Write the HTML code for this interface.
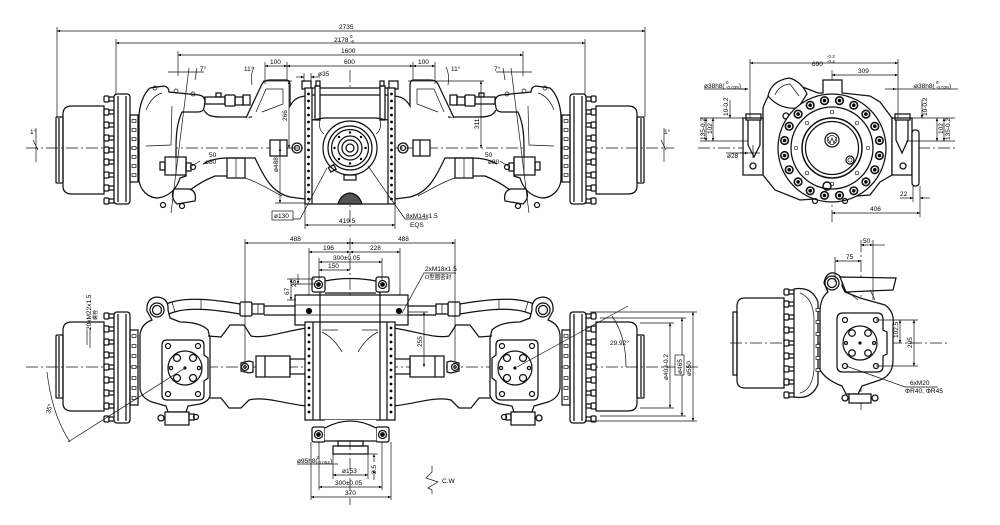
<!DOCTYPE html>
<html><head><meta charset="utf-8"><style>
html,body{margin:0;padding:0;background:#fff}
svg{display:block}
text{font-family:"Liberation Sans","Noto Sans CJK SC",sans-serif;font-size:6.5px;fill:#000;stroke:none}
.th{stroke-width:.7}
.c{stroke-width:.7;stroke-dasharray:12 3 2 3}
.d{stroke-width:.7;marker-start:url(#ar);marker-end:url(#ar)}
.d1{stroke-width:.7;marker-end:url(#ar)}
.f{fill:#fff}
.k{fill:#000}
</style></head><body>
<svg width="1000" height="525" viewBox="0 0 1000 525" xmlns="http://www.w3.org/2000/svg" xmlns:xlink="http://www.w3.org/1999/xlink">
<defs>
<marker id="ar" viewBox="0 0 10 10" refX="10" refY="5" markerWidth="5" markerHeight="3" orient="auto-start-reverse" markerUnits="userSpaceOnUse"><path d="M0,1 L10,5 L0,9 Z" fill="#000" stroke="none"/></marker>
<g id="bt"><rect x="0" y="-3" width="5" height="6" rx="1.2" fill="#fff"/><rect x="5" y="-2" width="5" height="4" fill="#fff"/></g>
<g id="rb"><circle r="3.8" fill="#fff" stroke-width="1.6"/><circle r="1.8" fill="#000" stroke="none"/></g>
<g id="th"><rect x="0" y="-1.5" width="4" height="3" fill="#fff" stroke-width=".7"/></g>
</defs>
<g fill="none" stroke="#111" stroke-width="1.25">

<!-- ================= FRONT VIEW (top) ================= -->
<line class="c" x1="26" y1="148" x2="674" y2="148"/>
<line class="c" x1="350" y1="70" x2="350" y2="230"/>

<g id="FL">
 <rect x="56" y="117" width="7" height="66" rx="1"/>
 <line x1="59" y1="118" x2="59" y2="182"/>
 <path d="M63,114 Q63,106 72,106 L104,106 L104,194 L72,194 Q63,194 63,186 Z"/>
 <use xlink:href="#bt" x="104" y="99"/><use xlink:href="#bt" x="104" y="112"/><use xlink:href="#bt" x="104" y="125"/>
 <use xlink:href="#bt" x="104" y="138"/><use xlink:href="#bt" x="104" y="150"/><use xlink:href="#bt" x="104" y="162"/>
 <use xlink:href="#bt" x="104" y="175"/><use xlink:href="#bt" x="104" y="188"/><use xlink:href="#bt" x="104" y="201"/>
 <rect x="114" y="94" width="16" height="110" rx="3" class="f"/>
 <line x1="118" y1="96" x2="118" y2="202"/>
 <line x1="126" y1="96" x2="126" y2="202"/>
 <rect x="130" y="115" width="8" height="67"/>
 <use xlink:href="#th" x="132" y="121"/><use xlink:href="#th" x="132" y="130"/><use xlink:href="#th" x="132" y="139"/>
 <use xlink:href="#th" x="132" y="148"/><use xlink:href="#th" x="132" y="157"/><use xlink:href="#th" x="132" y="166"/><use xlink:href="#th" x="132" y="175"/>
 <!-- knuckle -->
 <path class="f" d="M139,118 C139,105 144,93 150,88 L164,86 Q169,87 169,92 L199,95 Q205,96 205,102 L204,108 Q203,112 198,112 L182,112 C176,125 176,140 176,150 L176,158 L186,158 L186,176 L180,178 C177,188 170,196 158,198 C148,198 140,190 139,180 Z"/>
 <path class="th" d="M172,106 L171,145 L146,146"/>
 <path class="th" d="M146,110 C150,100 155,95 162,93"/>
 <circle cx="155" cy="88" r="2" class="th"/><circle cx="176" cy="91" r="2" class="th"/><circle cx="193" cy="94" r="2" class="th"/>
 <path class="f" d="M174,189 L190,189 Q197,192 195,201 L177,204 Q170,198 174,189 Z"/>
 <circle cx="163" cy="205" r="2.5"/><circle cx="182" cy="206" r="2.5"/>
 <rect x="165" y="157" width="21" height="18" class="f"/>
 <line x1="176" y1="157" x2="176" y2="175" class="th"/>
 <rect x="160" y="162" width="5" height="8"/><rect x="186" y="163" width="5" height="8"/><circle cx="193" cy="167" r="2.5"/>
 <line class="th" x1="189" y1="68" x2="171" y2="213"/>
 <!-- tie rod -->
 <rect x="205" y="97" width="20" height="7"/>
 <rect x="225" y="95" width="10" height="11" rx="1"/>
 <rect x="235" y="97" width="8" height="8"/>
 <rect x="243" y="95" width="7" height="10"/>
 <rect x="216" y="93" width="5" height="4"/>
 <!-- beam -->
 <path d="M204,110 C207,116 212,117 222,117 L252,117"/>
 <path class="f" d="M246,118 L262,84 Q264,80 270,80 L286,80 Q290,80 290,85 L290,106 C294,99 298,97 305,96"/>
 <path class="th" d="M256,112 L266,89 L283,89 L283,104 L262,112"/>
 <path d="M190,190 C198,184 205,180 215,176 L227,176"/>
 <path d="M203,164 Q213,158 228,158 L255,158 C263,174 270,192 290,197 L305,199"/>
 <rect x="227" y="158" width="18" height="20"/>
 <line x1="236" y1="158" x2="236" y2="178" class="th"/>
 <path class="th" d="M245,178 C258,182 270,190 282,196"/>
 <rect x="270" y="140" width="17" height="16" class="f"/>
 <line x1="280" y1="140" x2="280" y2="156"/>
 <circle cx="297" cy="148" r="5"/><circle cx="297" cy="148" r="2.5"/>
 <rect x="302" y="81" width="9" height="8"/>
</g>
<use xlink:href="#FL" transform="translate(700,0) scale(-1,1)"/>

<!-- center housing front -->
<rect x="305" y="88" width="90" height="116" class="f"/>
<line x1="312" y1="88" x2="312" y2="204"/><line x1="388" y1="88" x2="388" y2="204"/>
<g class="k" stroke="none">
<circle cx="308.5" cy="94" r="1.4"/><circle cx="308.5" cy="101" r="1.4"/><circle cx="308.5" cy="108" r="1.4"/><circle cx="308.5" cy="115" r="1.4"/><circle cx="308.5" cy="122" r="1.4"/><circle cx="308.5" cy="129" r="1.4"/><circle cx="308.5" cy="136" r="1.4"/><circle cx="308.5" cy="143" r="1.4"/><circle cx="308.5" cy="150" r="1.4"/><circle cx="308.5" cy="157" r="1.4"/><circle cx="308.5" cy="164" r="1.4"/><circle cx="308.5" cy="171" r="1.4"/><circle cx="308.5" cy="178" r="1.4"/><circle cx="308.5" cy="185" r="1.4"/><circle cx="308.5" cy="192" r="1.4"/><circle cx="308.5" cy="199" r="1.4"/>
<circle cx="391.5" cy="94" r="1.4"/><circle cx="391.5" cy="101" r="1.4"/><circle cx="391.5" cy="108" r="1.4"/><circle cx="391.5" cy="115" r="1.4"/><circle cx="391.5" cy="122" r="1.4"/><circle cx="391.5" cy="129" r="1.4"/><circle cx="391.5" cy="136" r="1.4"/><circle cx="391.5" cy="143" r="1.4"/><circle cx="391.5" cy="150" r="1.4"/><circle cx="391.5" cy="157" r="1.4"/><circle cx="391.5" cy="164" r="1.4"/><circle cx="391.5" cy="171" r="1.4"/><circle cx="391.5" cy="178" r="1.4"/><circle cx="391.5" cy="185" r="1.4"/><circle cx="391.5" cy="192" r="1.4"/><circle cx="391.5" cy="199" r="1.4"/>
</g>
<line x1="312" y1="95" x2="388" y2="95"/>
<rect x="315" y="86" width="5" height="34" class="f"/><rect x="380" y="86" width="5" height="34" class="f"/>
<rect x="316" y="81" width="4" height="5"/><rect x="380" y="81" width="4" height="5"/>
<path d="M312,120 L324,118 L376,118 L388,120"/>
<path class="th" d="M320,120 Q318,130 324,134 M380,120 Q382,130 376,134"/>
<circle cx="350" cy="148" r="27" class="f"/>
<circle cx="350" cy="148" r="22"/><circle cx="350" cy="148" r="18.5"/>
<circle cx="350" cy="148" r="12"/><circle cx="350" cy="148" r="8"/><circle cx="350" cy="148" r="4"/>
<g class="k" stroke="none"><circle cx="350" cy="132.5" r="1.2"/><circle cx="361" cy="137" r="1.2"/><circle cx="365.5" cy="148" r="1.2"/><circle cx="361" cy="159" r="1.2"/><circle cx="350" cy="163.5" r="1.2"/><circle cx="339" cy="159" r="1.2"/><circle cx="334.5" cy="148" r="1.2"/><circle cx="339" cy="137" r="1.2"/></g>
<rect x="344" y="175" width="12" height="5"/>
<rect x="329" y="166" width="6" height="5" transform="rotate(-30 332 168)"/>
<path d="M338,204 Q341,194 350,193 Q359,194 362,204 Z" fill="#555"/>

<!-- front dims -->
<line class="th" x1="57" y1="27" x2="57" y2="117"/><line class="th" x1="645" y1="27" x2="645" y2="117"/>
<line class="d" x1="57" y1="31" x2="645" y2="31"/>
<text x="339" y="29">2735</text>
<line class="th" x1="116" y1="39" x2="116" y2="94"/><line class="th" x1="585" y1="39" x2="585" y2="94"/>
<line class="d" x1="116" y1="43" x2="585" y2="43"/>
<text x="334" y="42">2178</text><text x="350" y="38" style="font-size:4.5px">0</text><text x="350" y="43" style="font-size:4.5px">-5</text>
<line class="th" x1="178" y1="51" x2="178" y2="76"/><line class="th" x1="523" y1="51" x2="523" y2="76"/>
<line class="d" x1="178" y1="55" x2="523" y2="55"/>
<text x="341" y="53">1600</text>
<line class="th" x1="265" y1="62" x2="265" y2="84"/><line class="th" x1="287" y1="62" x2="287" y2="80"/>
<line class="th" x1="413" y1="62" x2="413" y2="80"/><line class="th" x1="435" y1="62" x2="435" y2="84"/>
<line class="d" x1="287" y1="66" x2="413" y2="66"/>
<line class="d" x1="265" y1="66" x2="287" y2="66"/><line class="d" x1="413" y1="66" x2="435" y2="66"/>
<text x="344" y="64">600</text><text x="270" y="64">100</text><text x="418" y="64">100</text>
<line class="th" x1="304" y1="73" x2="304" y2="82"/><line class="th" x1="311" y1="73" x2="311" y2="82"/>
<line class="d1" x1="296" y1="77" x2="304" y2="77"/><line class="d1" x1="320" y1="77" x2="311" y2="77"/>
<text x="318" y="76">ø35</text>
<line class="th" x1="263" y1="81" x2="292" y2="81"/>
<line class="d" x1="289" y1="81" x2="289" y2="148"/>
<text transform="translate(287,121) rotate(-90)">266</text>
<line class="th" x1="408" y1="81" x2="484" y2="81"/>
<line class="d" x1="481" y1="81" x2="481" y2="148"/>
<text transform="translate(479,129) rotate(-90)">311</text>
<line class="th" x1="275" y1="203" x2="305" y2="203"/>
<line class="d" x1="280" y1="148" x2="280" y2="203"/>
<text transform="translate(278,172) rotate(-90)">ø488</text>
<rect x="272" y="211" width="21" height="9" class="th"/>
<text x="274" y="218">ø130</text>
<path class="th" d="M293,219 L300,219 L327,168"/>
<line class="th" x1="305" y1="204" x2="305" y2="229"/><line class="th" x1="395" y1="204" x2="395" y2="229"/>
<line class="d" x1="305" y1="225" x2="395" y2="225"/>
<text x="339" y="223">419.5</text>
<path class="th" d="M368,166 L405,219 L428,219"/>
<text x="406" y="218">8xM14x1.5</text><text x="410" y="227">EQS</text>
<path class="th" d="M168,72 L204,72 M197,68 L195,80"/><text x="200" y="71">7°</text>
<path class="th" d="M532,72 L496,72 M503,68 L505,80"/><text x="494" y="71">7°</text>
<path class="th" d="M254,67 Q250,75 252,85"/><text x="244" y="71">11°</text>
<path class="th" d="M446,67 Q450,75 448,85"/><text x="451" y="71">11°</text>
<text x="209" y="157">50</text><text x="205" y="164">ø80</text><path class="th" d="M200,161 L192,166"/>
<text x="485" y="157">50</text><text x="488" y="164">ø80</text><path class="th" d="M500,161 L508,166"/>
<text x="30" y="134">1°</text><path class="th" d="M36,128 L36,162 M33,140 L38,150"/>
<text x="664" y="134">1°</text><path class="th" d="M664,128 L664,162 M661,140 L666,150"/>

<!-- ================= SIDE VIEW (top right) ================= -->
<line class="c" x1="698" y1="148" x2="958" y2="148"/>
<line class="c" x1="832" y1="70" x2="832" y2="225"/>
<path class="f" d="M763,118 L763,108 Q768,92 780,84 Q790,80 800,86 L818,93 L823,93 L823,80 L842,80 L842,93 L870,96 L880,102 L892,118 L892,175 L880,182 L870,195 L800,200 L775,190 L763,175 Z"/>
<rect x="743" y="118" width="20" height="57" class="f"/>
<rect x="746" y="114" width="15" height="6"/>
<path d="M748,120 L748,145 L754,157 L760,145 L760,120"/>
<circle cx="753" cy="166" r="3"/><line x1="753" y1="145" x2="753" y2="158" class="th"/>
<rect x="892" y="118" width="20" height="57" class="f"/>
<rect x="895" y="114" width="15" height="6"/>
<path d="M896,120 L896,140 L902,153 L908,140 L908,120"/>
<circle cx="903" cy="166" r="3"/>
<rect x="912" y="130" width="7" height="56" rx="3" class="f"/>
<path class="f" d="M768,96 Q771,81 789,78 Q801,81 807,94 L798,108 Q780,110 768,96 Z"/>
<path class="th" d="M775,95 Q779,85 790,84 L799,96"/>
<circle cx="786" cy="116" r="3"/><circle cx="793" cy="130" r="3"/>
<circle cx="832" cy="148" r="54" class="f"/>
<g>
<use xlink:href="#rb" x="879.4" y="155.5"/><use xlink:href="#rb" x="879.4" y="140.5"/><use xlink:href="#rb" x="784.6" y="155.5"/><use xlink:href="#rb" x="784.6" y="140.5"/>
<use xlink:href="#rb" x="874.8" y="169.8"/><use xlink:href="#rb" x="874.8" y="126.2"/><use xlink:href="#rb" x="789.2" y="169.8"/><use xlink:href="#rb" x="789.2" y="126.2"/>
<use xlink:href="#rb" x="865.9" y="181.9"/><use xlink:href="#rb" x="865.9" y="114.1"/><use xlink:href="#rb" x="798.1" y="181.9"/><use xlink:href="#rb" x="798.1" y="114.1"/>
<use xlink:href="#rb" x="853.8" y="190.8"/><use xlink:href="#rb" x="853.8" y="105.2"/><use xlink:href="#rb" x="810.2" y="190.8"/><use xlink:href="#rb" x="810.2" y="105.2"/>
<use xlink:href="#rb" x="839.5" y="195.4"/><use xlink:href="#rb" x="839.5" y="100.6"/><use xlink:href="#rb" x="824.5" y="195.4"/><use xlink:href="#rb" x="824.5" y="100.6"/>
</g>
<circle cx="832" cy="148" r="41"/>
<circle cx="832" cy="148" r="30" stroke-width="1.5"/>
<circle cx="832" cy="148" r="26.5"/>
<g class="th"><circle cx="832" cy="112" r="1.8"/><circle cx="857" cy="123" r="1.8"/><circle cx="868" cy="148" r="1.8"/><circle cx="857" cy="173" r="1.8"/><circle cx="832" cy="184" r="1.8"/><circle cx="807" cy="173" r="1.8"/><circle cx="796" cy="148" r="1.8"/><circle cx="807" cy="123" r="1.8"/></g>
<circle cx="832" cy="140" r="7"/><circle cx="832" cy="140" r="4.5" class="th"/>
<path d="M827,137 L830,143 L832,138 L834,143 L837,137" class="th"/>
<circle cx="850" cy="160" r="4"/><circle cx="850" cy="160" r="2" class="th"/>
<circle cx="827" cy="186" r="4" stroke-width="1.5"/>
<circle cx="815" cy="201" r="2.5"/><circle cx="845" cy="201" r="2.5"/>
<!-- side view dims -->
<line class="th" x1="750" y1="59" x2="750" y2="118"/><line class="th" x1="898" y1="59" x2="898" y2="118"/>
<line class="d" x1="750" y1="63" x2="898" y2="63"/>
<text x="812" y="66">690</text><text x="827" y="58" style="font-size:4.5px">-0.2</text><text x="827" y="63" style="font-size:4.5px">-0.4</text>
<line class="d" x1="832" y1="75" x2="898" y2="75"/>
<text x="858" y="73">309</text>
<line class="th" x1="704" y1="89" x2="748" y2="89"/><line class="d1" x1="740" y1="89" x2="748" y2="89"/>
<text x="704" y="88">ø38h8(</text><text x="726" y="84" style="font-size:4.5px">0</text><text x="726" y="89" style="font-size:4.5px">-0.039</text><text x="739" y="88">)</text>
<line class="th" x1="885" y1="89" x2="958" y2="89"/><line class="d1" x1="893" y1="89" x2="896" y2="89"/>
<text x="914" y="88">ø38h8(</text><text x="936" y="84" style="font-size:4.5px">0</text><text x="936" y="89" style="font-size:4.5px">-0.039</text><text x="949" y="88">)</text>
<line class="th" x1="700" y1="118" x2="748" y2="118"/><line class="th" x1="700" y1="141" x2="748" y2="141"/>
<line class="th" x1="906" y1="118" x2="955" y2="118"/><line class="th" x1="906" y1="141" x2="955" y2="141"/>
<line class="d" x1="706" y1="118" x2="706" y2="141"/><line class="d" x1="713" y1="118" x2="713" y2="141"/>
<text transform="translate(705,140) rotate(-90)">135-0.2</text><text transform="translate(712,134) rotate(-90)">102</text>
<line class="d1" x1="730" y1="100" x2="730" y2="118"/>
<text transform="translate(728,116) rotate(-90)">10-0.2</text>
<line class="d" x1="944" y1="118" x2="944" y2="141"/><line class="d" x1="937" y1="118" x2="937" y2="141"/>
<text transform="translate(950,140) rotate(-90)">135-0.2</text><text transform="translate(943,134) rotate(-90)">102</text>
<line class="d1" x1="922" y1="100" x2="922" y2="118"/>
<text transform="translate(927,116) rotate(-90)">10-0.2</text>
<line class="th" x1="726" y1="153" x2="760" y2="153"/><line class="d1" x1="740" y1="153" x2="748" y2="153"/>
<text x="727" y="158">ø28</text>
<line class="th" x1="913" y1="186" x2="913" y2="202"/><line class="th" x1="920" y1="186" x2="920" y2="217"/>
<line class="d1" x1="900" y1="198" x2="913" y2="198"/><line class="d1" x1="930" y1="198" x2="920" y2="198"/>
<text x="900" y="196">22</text>
<line class="d" x1="832" y1="213" x2="920" y2="213"/>
<text x="870" y="211">406</text>

<!-- ================= BOTTOM VIEW ================= -->
<line class="c" x1="26" y1="367" x2="700" y2="367"/>
<line class="c" x1="350" y1="238" x2="350" y2="505"/>
<g id="BL">
 <rect x="56" y="335" width="7" height="63" rx="1"/>
 <line x1="59" y1="336" x2="59" y2="397"/>
 <path d="M63,330 Q63,322 72,322 L104,322 L104,411 L72,411 Q63,411 63,403 Z"/>
 <use xlink:href="#bt" x="104" y="316"/><use xlink:href="#bt" x="104" y="329"/><use xlink:href="#bt" x="104" y="342"/>
 <use xlink:href="#bt" x="104" y="355"/><use xlink:href="#bt" x="104" y="367"/><use xlink:href="#bt" x="104" y="380"/>
 <use xlink:href="#bt" x="104" y="393"/><use xlink:href="#bt" x="104" y="406"/><use xlink:href="#bt" x="104" y="419"/>
 <rect x="114" y="312" width="16" height="111" rx="3" class="f"/>
 <line x1="118" y1="314" x2="118" y2="421"/><line x1="126" y1="314" x2="126" y2="421"/>
 <rect x="130" y="330" width="8" height="75"/>
 <use xlink:href="#th" x="132" y="336"/><use xlink:href="#th" x="132" y="346"/><use xlink:href="#th" x="132" y="356"/>
 <use xlink:href="#th" x="132" y="367"/><use xlink:href="#th" x="132" y="378"/><use xlink:href="#th" x="132" y="388"/><use xlink:href="#th" x="132" y="398"/>
 <!-- hose & rods -->
 <path d="M164,305 C180,297 205,298 240,304"/>
 <path d="M167,315 C182,307 205,308 240,314"/>
 <line x1="172" y1="302" x2="175" y2="312" class="th"/><line x1="201" y1="299" x2="201" y2="309" class="th"/>
 <rect x="240" y="302" width="12" height="14" rx="1.5" class="f"/>
 <rect x="252" y="304" width="12" height="10" class="f"/>
 <line x1="258" y1="304" x2="258" y2="314" class="th"/>
 <line x1="264" y1="306" x2="296" y2="306"/><line x1="264" y1="315" x2="296" y2="315"/>
 <!-- knuckle -->
 <path class="f" d="M140,335 Q141,324 152,320 L147,311 Q146,298 157,297 Q169,298 168,310 L170,318 L180,322 Q200,322 208,330 L210,338 L210,396 Q208,402 200,404 L188,406 L186,412 L168,412 L166,406 L152,402 Q141,398 140,388 Z"/>
 <circle cx="157" cy="310" r="7"/><circle cx="157" cy="310" r="4.5"/>
 <path d="M167,340 L199,340 Q204,340 204,345 L204,355 L208,358 L208,378 L204,381 L204,395 Q204,400 199,400 L167,400 Q162,400 162,395 L162,345 Q162,340 167,340 Z"/>
 <circle cx="168" cy="346" r="2.5"/><circle cx="198" cy="346" r="2.5"/><circle cx="168" cy="394" r="2.5"/><circle cx="198" cy="394" r="2.5"/>
 <circle cx="185" cy="368" r="17"/>
 <circle cx="177" cy="358" r="3.5"/><circle cx="193" cy="358" r="3.5"/><circle cx="177" cy="378" r="3.5"/><circle cx="193" cy="378" r="3.5"/>
 <circle cx="171" cy="368" r="1.6"/><circle cx="199" cy="368" r="1.6"/><circle cx="185" cy="368" r="1" class="k"/>
 <rect x="165" y="412" width="24" height="13" class="f"/>
 <circle cx="161" cy="418" r="3"/><rect x="189" y="414" width="5" height="6"/><circle cx="196" cy="417" r="2.5"/>
 <!-- beam -->
 <path d="M208,336 L221,337 L230,325 L244,325 L251,336 C265,339 285,331 307,328"/>
 <path d="M210,398 L221,398 L229,408 L241,408 L249,400 C265,396 285,404 307,406"/>
 <path d="M241,363 L249,361 L253,362 L253,372 L249,373 L241,371 Z" class="f"/>
 <circle cx="245" cy="367" r="3.5" class="f"/><circle cx="245" cy="367" r="1.2"/>
 <rect x="256" y="356" width="34" height="21" class="f"/>
 <line x1="265" y1="356" x2="265" y2="377"/>
 <rect x="290" y="359" width="17" height="15"/>
</g>
<use xlink:href="#BL" transform="translate(700,0) scale(-1,1)"/>

<!-- center housing bottom -->
<rect x="295" y="295" width="113" height="30" class="f"/>
<rect x="305" y="322" width="90" height="98" class="f"/>
<line x1="313" y1="322" x2="313" y2="420"/><line x1="387" y1="322" x2="387" y2="420"/>
<line x1="320" y1="282" x2="320" y2="420"/><line x1="380" y1="282" x2="380" y2="420"/>
<line x1="295" y1="305" x2="408" y2="305" class="th"/><line x1="295" y1="315" x2="408" y2="315" class="th"/>
<circle cx="309" cy="311" r="2.5" class="k"/><circle cx="399" cy="311" r="2.5" class="k"/>
<g class="k" stroke="none">
<circle cx="309" cy="328" r="1.4"/><circle cx="309" cy="335" r="1.4"/><circle cx="309" cy="342" r="1.4"/><circle cx="309" cy="349" r="1.4"/><circle cx="309" cy="356" r="1.4"/><circle cx="309" cy="363" r="1.4"/><circle cx="309" cy="370" r="1.4"/><circle cx="309" cy="377" r="1.4"/><circle cx="309" cy="384" r="1.4"/><circle cx="309" cy="391" r="1.4"/><circle cx="309" cy="398" r="1.4"/><circle cx="309" cy="405" r="1.4"/><circle cx="309" cy="412" r="1.4"/>
<circle cx="391" cy="328" r="1.4"/><circle cx="391" cy="335" r="1.4"/><circle cx="391" cy="342" r="1.4"/><circle cx="391" cy="349" r="1.4"/><circle cx="391" cy="356" r="1.4"/><circle cx="391" cy="363" r="1.4"/><circle cx="391" cy="370" r="1.4"/><circle cx="391" cy="377" r="1.4"/><circle cx="391" cy="384" r="1.4"/><circle cx="391" cy="391" r="1.4"/><circle cx="391" cy="398" r="1.4"/><circle cx="391" cy="405" r="1.4"/><circle cx="391" cy="412" r="1.4"/>
</g>
<path class="th" d="M322,332 Q334,338 342,352 M378,332 Q366,338 358,352"/>
<path class="th" d="M322,330 L338,330 M362,330 L378,330"/>
<rect x="312" y="277" width="13" height="15" rx="2" class="f"/><rect x="376" y="277" width="13" height="15" rx="2" class="f"/>
<circle cx="318.5" cy="284.5" r="4"/><circle cx="318.5" cy="284.5" r="1.8" class="k"/>
<circle cx="382.5" cy="284.5" r="4"/><circle cx="382.5" cy="284.5" r="1.8" class="k"/>
<path d="M325,281 Q350,276 376,281 M325,293 L376,293"/>
<rect x="312" y="427" width="13" height="15" rx="2" class="f"/><rect x="376" y="427" width="13" height="15" rx="2" class="f"/>
<circle cx="318.5" cy="434.5" r="4"/><circle cx="318.5" cy="434.5" r="1.8" class="k"/>
<circle cx="382.5" cy="434.5" r="4"/><circle cx="382.5" cy="434.5" r="1.8" class="k"/>
<rect x="325" y="420" width="51" height="21" class="f" stroke="none"/>
<path d="M325,441 L376,441 M325,428 Q350,414 376,428"/>
<rect x="338" y="441" width="25" height="5"/>
<rect x="333" y="446" width="35" height="8"/>
<!-- bottom dims -->
<line class="th" x1="245" y1="239" x2="245" y2="362"/><line class="th" x1="455" y1="239" x2="455" y2="362"/>
<line class="d" x1="245" y1="243" x2="350" y2="243"/><line class="d" x1="350" y1="243" x2="455" y2="243"/>
<text x="290" y="241">488</text><text x="398" y="241">488</text>
<line class="th" x1="309" y1="248" x2="309" y2="295"/><line class="th" x1="400" y1="248" x2="400" y2="295"/>
<line class="d" x1="309" y1="252" x2="350" y2="252"/><line class="d" x1="350" y1="252" x2="400" y2="252"/>
<text x="323" y="250">196</text><text x="370" y="250">228</text>
<line class="th" x1="319" y1="258" x2="319" y2="280"/><line class="th" x1="382" y1="258" x2="382" y2="280"/>
<line class="d" x1="319" y1="262" x2="382" y2="262"/>
<text x="333" y="260">300±0.05</text>
<line class="d" x1="319" y1="270" x2="350" y2="270"/>
<text x="328" y="268">150</text>
<line class="th" x1="287" y1="279" x2="315" y2="279"/><line class="th" x1="287" y1="300" x2="296" y2="300"/><line class="th" x1="292" y1="284" x2="315" y2="284"/>
<line class="d" x1="291" y1="279" x2="291" y2="300"/><line class="d1" x1="298" y1="274" x2="298" y2="284"/>
<text transform="translate(289,295) rotate(-90)">67</text><text transform="translate(296,287) rotate(-90)">25</text>
<path class="th" d="M402,313 L424,273 L456,273"/>
<text x="425" y="271">2xM18x1.5</text><text x="425" y="279" style="font-size:5.5px">O型圈密封</text>
<line class="th" x1="408" y1="312" x2="428" y2="312"/>
<line class="d" x1="424" y1="312" x2="424" y2="367"/>
<text transform="translate(422,347) rotate(-90)">255</text>
<!-- bottom lower dims -->
<line class="th" x1="311" y1="442" x2="311" y2="500"/><line class="th" x1="391" y1="442" x2="391" y2="500"/>
<line class="th" x1="319" y1="442" x2="319" y2="490"/><line class="th" x1="382" y1="442" x2="382" y2="490"/>
<line class="th" x1="333" y1="454" x2="333" y2="479"/><line class="th" x1="368" y1="454" x2="368" y2="479"/>
<line class="d" x1="333" y1="475" x2="368" y2="475"/><text x="342" y="473">ø153</text>
<line class="d" x1="319" y1="487" x2="382" y2="487"/><text x="335" y="485">300±0.05</text>
<line class="d" x1="311" y1="497" x2="391" y2="497"/><text x="345" y="495">370</text>
<line class="th" x1="297" y1="464" x2="338" y2="464"/>
<text x="297" y="463">ø95h8(</text><text x="317" y="459" style="font-size:4.5px">0</text><text x="317" y="464" style="font-size:4.5px">-0.054</text><text x="330" y="463">)</text>
<line class="th" x1="368" y1="454" x2="378" y2="454"/>
<line class="d1" x1="374" y1="462" x2="374" y2="454"/><line class="d1" x1="374" y1="480" x2="374" y2="470"/>
<text transform="translate(376,474) rotate(-90)">2.5</text>
<path class="th" d="M432,466 L432,472 L426,478 L438,482 L428,488 L432,490 L432,494"/>
<text x="442" y="483">C.W</text>
<!-- angle dims -->
<line class="th" x1="68" y1="442" x2="185" y2="368"/>
<path class="th" d="M47,372 Q52,415 70,442"/>
<text transform="translate(50,414) rotate(-75)">35°</text>
<line class="th" x1="517" y1="367" x2="628" y2="306"/>
<path class="th" d="M612,316 Q626,336 626,367"/>
<text x="610" y="345">29.92°</text>
<line class="th" x1="590" y1="312" x2="697" y2="312"/><line class="th" x1="590" y1="421" x2="697" y2="421"/>
<line class="th" x1="600" y1="318" x2="686" y2="318"/><line class="th" x1="600" y1="416" x2="686" y2="416"/>
<line class="th" x1="640" y1="323" x2="674" y2="323"/><line class="th" x1="640" y1="408" x2="674" y2="408"/>
<line class="d" x1="693" y1="312" x2="693" y2="421"/><line class="d" x1="682" y1="318" x2="682" y2="416"/><line class="d" x1="670" y1="323" x2="670" y2="408"/>
<text transform="translate(691,376) rotate(-90)">ø550</text>
<rect x="675" y="355" width="9" height="20" class="th f"/>
<text transform="translate(682,374) rotate(-90)">ø465</text>
<text transform="translate(668,380) rotate(-90)">ø403-0.2</text>
<!-- 20xM22 label -->
<text transform="translate(91,330) rotate(-90)">20xM22x1.5</text>
<text transform="translate(97,320) rotate(-90)" style="font-size:5px">螺栓</text>
<line class="th" x1="87" y1="330" x2="87" y2="345"/><line class="th" x1="90" y1="328" x2="90" y2="348"/>

<!-- ================= SIDE VIEW (bottom right) ================= -->
<line class="c" x1="730" y1="343" x2="950" y2="343"/>
<line class="c" x1="861" y1="240" x2="861" y2="410"/>
<rect x="733" y="312" width="4" height="63"/>
<path d="M737,306 Q737,298 745,298 L784,298 L784,388 L745,388 Q737,388 737,380 Z"/>
<use xlink:href="#bt" x="784" y="292"/><use xlink:href="#bt" x="784" y="304"/><use xlink:href="#bt" x="784" y="317"/>
<use xlink:href="#bt" x="784" y="330"/><use xlink:href="#bt" x="784" y="343"/><use xlink:href="#bt" x="784" y="356"/>
<use xlink:href="#bt" x="784" y="369"/><use xlink:href="#bt" x="784" y="382"/><use xlink:href="#bt" x="784" y="395"/>
<path class="f" d="M794,289 Q812,286 818,302 L818,384 Q812,400 794,397 Z"/>
<path class="th" d="M800,293 Q813,298 814,318 L814,370 Q812,390 800,393"/>
<use xlink:href="#th" x="816" y="310"/><use xlink:href="#th" x="816" y="322"/><use xlink:href="#th" x="816" y="334"/>
<use xlink:href="#th" x="816" y="346"/><use xlink:href="#th" x="816" y="358"/><use xlink:href="#th" x="816" y="370"/>
<path class="f" d="M820,312 Q820,298 828,292 L824,283 Q826,272 834,273 Q844,276 842,286 L845,292 L860,298 L885,305 Q895,312 893,325 L893,360 Q893,375 880,380 L862,386 L858,394 L846,394 L842,386 Q826,380 820,370 Z"/>
<path class="f" d="M840,277 L896,278 L893,290 L846,292 Z"/>
<circle cx="832" cy="283" r="7" class="f"/><circle cx="832" cy="283" r="4.5"/>
<path class="th" d="M870,290 L875,300 M848,292 L858,300"/>
<path d="M843,313 L877,313 Q883,313 883,319 L883,330 L887,332 L887,354 L883,356 L883,366 Q883,372 877,372 L843,372 Q837,372 837,366 L837,319 Q837,313 843,313 Z"/>
<circle cx="845" cy="320" r="2.5"/><circle cx="876" cy="320" r="2.5"/><circle cx="845" cy="366" r="2.5"/><circle cx="876" cy="366" r="2.5"/>
<circle cx="860" cy="343" r="17"/>
<circle cx="852" cy="333" r="3.3"/><circle cx="868" cy="333" r="3.3"/><circle cx="852" cy="353" r="3.3"/><circle cx="868" cy="353" r="3.3"/>
<circle cx="846" cy="343" r="1.5"/><circle cx="874" cy="343" r="1.5"/><circle cx="860" cy="343" r="1" class="k"/>
<rect x="849" y="394" width="22" height="9" class="f"/><circle cx="845" cy="398" r="3"/><circle cx="875" cy="398" r="3"/>
<line class="th" x1="873" y1="240" x2="873" y2="300"/><line class="th" x1="835" y1="257" x2="835" y2="282"/>
<line class="d" x1="861" y1="245" x2="873" y2="245"/><line class="th" x1="873" y1="245" x2="885" y2="245"/>
<text x="863" y="243">50</text>
<line class="d" x1="835" y1="261" x2="861" y2="261"/><text x="846" y="259">75</text>
<line class="th" x1="876" y1="320" x2="918" y2="320"/><line class="th" x1="876" y1="366" x2="918" y2="366"/>
<line class="d" x1="900" y1="320" x2="900" y2="343"/><line class="d" x1="914" y1="320" x2="914" y2="366"/>
<text transform="translate(898,338) rotate(-90)">102.5</text>
<text transform="translate(912,348) rotate(-90)">205</text>
<path class="th" d="M846,366 L905,387 L938,387"/>
<text x="910" y="385">6xM20</text><text x="905" y="393">ΦR40, ΦR45</text>
</g>
</svg>
</body></html>
